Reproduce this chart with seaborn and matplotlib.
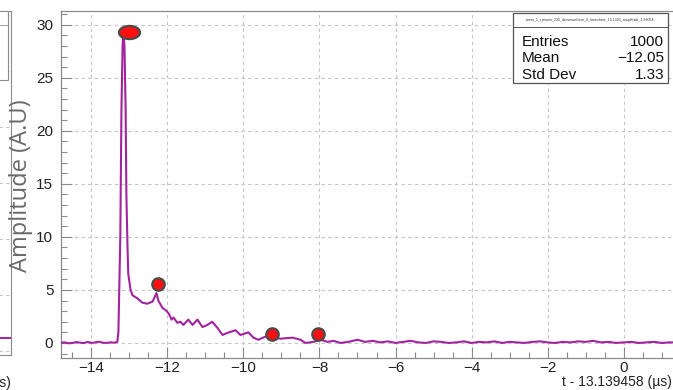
import numpy as np
import matplotlib
matplotlib.use("Agg")
import matplotlib.pyplot as plt
import matplotlib.patches as mpatches
from matplotlib.path import Path
from matplotlib.ticker import MultipleLocator
import seaborn as sns

# waveform (time relative to 13.139458 us)
t_us = [-14.8, -14.7, -14.6, -14.5, -14.4, -14.3, -14.2, -14.1, -14.0, -13.9,
        -13.8, -13.7, -13.6, -13.5, -13.4, -13.32,
        -13.29, -13.24, -13.21, -13.18, -13.16, -13.13, -13.10, -13.08, -13.05,
        -13.03, -12.97, -12.92, -12.79, -12.66, -12.53, -12.39, -12.29, -12.24,
        -12.13, -12.05, -11.97, -11.89, -11.84, -11.74, -11.66, -11.58, -11.45,
        -11.34, -11.21, -11.08, -10.95, -10.82, -10.68, -10.55, -10.42, -10.21,
        -10.08, -9.87, -9.74, -9.61, -9.42, -9.24, -9.03, -8.71, -8.50, -8.37,
        -8.16, -7.97, -7.79, -7.63, -7.45, -7.24, -7.0,
        -6.8, -6.6, -6.4, -6.2, -6.0, -5.8, -5.6, -5.4, -5.2, -5.0,
        -4.8, -4.6, -4.4, -4.2, -4.0, -3.8, -3.6, -3.4, -3.2, -3.0,
        -2.8, -2.6, -2.4, -2.2, -2.0, -1.8, -1.6, -1.4, -1.2, -1.0,
        -0.8, -0.6, -0.4, -0.2, 0.0, 0.2, 0.4, 0.6, 0.8, 1.0, 1.2, 1.3]
amp_au = [0.02, 0.05, -0.03, 0.0, 0.08, 0.03, -0.02, 0.1, 0.0, 0.05,
          0.12, 0.02, 0.0, 0.06, 0.02, 0.1,
          1.0, 10.0, 22.0, 28.0, 29.3, 28.0, 22.0, 14.0, 9.0,
          6.5, 5.0, 4.5, 4.2, 3.8, 3.7, 3.9, 4.7, 4.0,
          3.3, 3.1, 2.8, 2.2, 2.4, 1.9, 2.0, 1.7, 2.2,
          1.7, 2.2, 1.5, 1.7, 2.0, 1.4, 0.75, 0.95, 1.2,
          0.75, 1.0, 0.5, 0.3, 0.6, 0.55, 0.4, 0.5, 0.3, 0.0,
          0.1, 0.3, 0.1, 0.2, 0.0, 0.1, 0.3,
          0.1, 0.2, 0.05, 0.15, 0.0, 0.1, 0.2, 0.05, 0.0, 0.15,
          0.1, 0.0, 0.05, 0.15, 0.0, 0.1, 0.05, 0.15, 0.0, 0.1,
          0.05, 0.0, 0.1, 0.15, 0.05, 0.0, 0.1, 0.05, 0.15, 0.1,
          0.2, 0.05, 0.1, 0.0, 0.05, 0.1, 0.0, 0.05, 0.1, 0.0, 0.05, 0.05]

# peaks found by the search
peak_t = [-13.0, -12.26, -9.24, -8.03]
peak_amp = [29.3, 5.6, 0.85, 0.85]

# stats box
stat_title = "event_1_cpharm_235_devwaveform_0_timeshine_13.1395_amplitude_1.88054"
stat_names = ["Entries", "Mean", "Std Dev"]
stat_values = ["1000", "\u221212.05", "1.33"]

# neighbouring panel (only its right edge is in the crop)
left_t = [-14.8, -10.0, -5.0, 0.0, 1.3]
left_amp = [-3.8, -3.8, -3.8, -3.8, -3.8]

sns.set_style("ticks")
plt.rcParams["font.family"] = ["Liberation Sans", "DejaVu Sans"]

W, H = 673, 390
fig = plt.figure(figsize=(W / 100, H / 100), dpi=100)

line_col = "#a3239f"
frame_col = "#8a8a8a"
grid_kw = dict(color="#c4c4c4", linestyle=(0, (3, 3)), linewidth=0.8)


def px_box(x0, y0, x1, y1):
    return [x0 / W, 1 - y1 / H, (x1 - x0) / W, (y1 - y0) / H]


# ---- left fragment panel
axl = fig.add_axes(px_box(-300, 11, 11, 355))
sns.lineplot(x=left_t, y=left_amp, ax=axl, color=line_col, lw=1.4, estimator=None)
axl.set_xlim(-14.8, 1.3)
axl.set_ylim(-5.36, 25.35)
axl.yaxis.set_major_locator(MultipleLocator(5))
axl.grid(True, axis="y", **grid_kw)
axl.set_xticks([])
axl.set_yticklabels([])
for s in axl.spines.values():
    s.set_color(frame_col)
axl.add_patch(mpatches.Rectangle((0.6, 0.8), 0.39, 0.199, transform=axl.transAxes,
                                 facecolor="white", edgecolor=frame_col, lw=0.8, zorder=5))
axl.plot([0.6, 0.99], [0.96, 0.96], transform=axl.transAxes, color=frame_col, lw=0.6, zorder=6)
axl.text(1.0, -0.08, "t - 13.139458 (\u00b5s)", transform=axl.transAxes, ha="right",
         va="center", fontsize=10, color="#222222")

# ---- main panel
ax = fig.add_axes(px_box(61, 11, 673, 358))
sns.lineplot(x=t_us, y=amp_au, ax=ax, color=line_col, lw=1.5, estimator=None, zorder=3)

# elliptical marker for the main peak
th = np.linspace(0, 2 * np.pi, 60)
ell = Path(np.column_stack([0.8 * np.cos(th), 0.5 * np.sin(th)]))
ax.scatter(peak_t[:1], peak_amp[:1], marker=ell, s=230, color="#ff1010",
           edgecolor="#4a4a4a", linewidth=1.6, zorder=5)
ax.scatter(peak_t[1:], peak_amp[1:], marker="o", s=80, color="#ff1010",
           edgecolor="#4a4a4a", linewidth=1.6, zorder=5)

ax.set_xlim(-14.8, 1.3)
ax.set_ylim(-1.42, 31.3)
ax.xaxis.set_major_locator(MultipleLocator(2))
ax.xaxis.set_minor_locator(MultipleLocator(0.5))
ax.yaxis.set_major_locator(MultipleLocator(5))
ax.yaxis.set_minor_locator(MultipleLocator(1))
ax.grid(True, which="major", **grid_kw)
ax.tick_params(which="both", direction="in", colors=frame_col, labelcolor="#222222",
               labelsize=11)
ax.tick_params(which="major", length=8, width=0.8)
ax.tick_params(which="minor", length=4, width=0.8)
ax.tick_params(axis="y", pad=5.5)
ax.tick_params(axis="x", pad=2.5)
for s in ax.spines.values():
    s.set_color(frame_col)
    s.set_linewidth(0.9)
ax.spines["right"].set_visible(False)

ax.set_xlabel("")
ax.set_ylabel("")
fig.text(21 / W, 1 - 186 / H, "Amplitude (A.U)", rotation=90, ha="center", va="center",
         fontsize=17, color="#6a6a6a", family=["Open Sans", "DejaVu Sans"])
fig.text(672 / W, 1 - 382 / H, "t - 13.139458 (\u00b5s)", ha="right", va="center",
         fontsize=10, color="#222222")

# stats box
bx0, bx1 = (513 - 61) / 612, (668 - 61) / 612
by0, by1 = (358 - 83) / 347, (358 - 13) / 347
ax.add_patch(mpatches.Rectangle((bx0, by0), bx1 - bx0, by1 - by0, transform=ax.transAxes,
                                facecolor="white", edgecolor="#555555", lw=0.9, zorder=6))
hy = (358 - 27) / 347
ax.plot([bx0, bx1], [hy, hy], transform=ax.transAxes, color="#555555", lw=0.7, zorder=7)
ax.text((bx0 + bx1) / 2, (hy + by1) / 2, stat_title, transform=ax.transAxes,
        ha="center", va="center", fontsize=2.6, color="#333333", zorder=7)
row_y = [(358 - 42) / 347, (358 - 58) / 347, (358 - 75) / 347]
for name, val, yy in zip(stat_names, stat_values, row_y):
    ax.text((522 - 61) / 612, yy, name, transform=ax.transAxes, ha="left", va="center",
            fontsize=11, color="#111111", zorder=7)
    ax.text((664 - 61) / 612, yy, val, transform=ax.transAxes, ha="right", va="center",
            fontsize=11, color="#111111", zorder=7)

fig.savefig("out.png", dpi=100)
